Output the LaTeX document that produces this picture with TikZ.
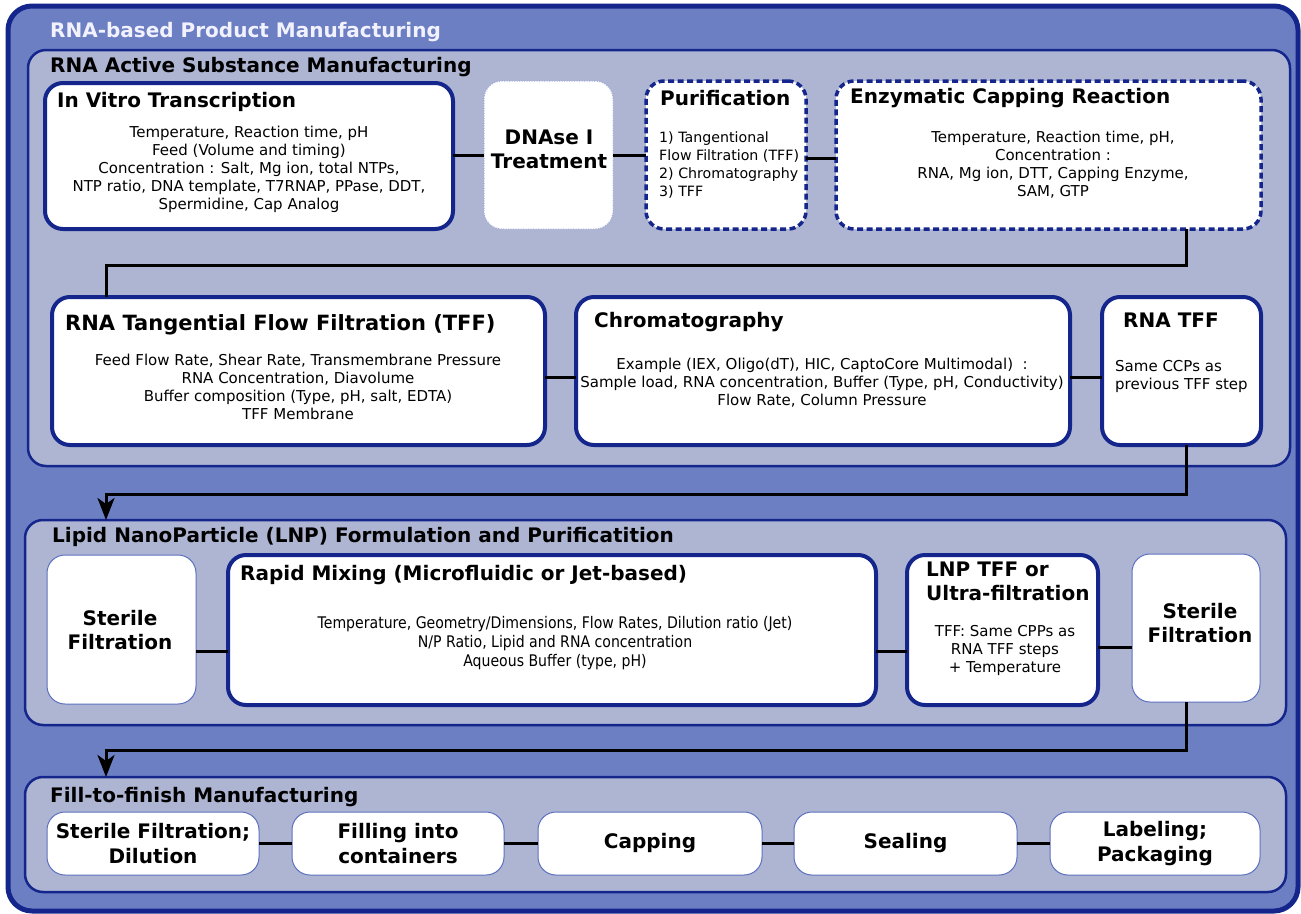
\documentclass[tikz,border=0pt]{standalone}
\usepackage{fontspec}
\setmainfont{DejaVu Sans}
\newfontfamily\condfont{DejaVu Sans}[FakeStretch=0.88]
\usetikzlibrary{arrows.meta}

\definecolor{outerfill}{RGB}{108,127,195}
\definecolor{secfill}{RGB}{174,181,211}
\definecolor{navy}{RGB}{20,38,140}
\definecolor{thinblue}{RGB}{92,112,192}

\newcommand\hdfont{\bfseries\fontsize{20}{24}\selectfont}
\newcommand\bodyfont{\fontsize{15}{18}\selectfont}
\newcommand\cbodyfont{\condfont\fontsize{16}{19}\selectfont}

\tikzset{
  panel/.style={draw=navy, line width=2.5pt, fill=secfill, rounded corners=18pt,
    anchor=north west, inner sep=0pt, outer sep=0pt},
  procbox/.style={draw=navy, line width=4pt, fill=white, rounded corners=18pt,
    anchor=north west, inner sep=0pt, outer sep=0pt},
  dashbox/.style={procbox, line width=3.5pt, dash pattern=on 6pt off 3.5pt},
  dotbox/.style={procbox, draw=thinblue!60, line width=1pt, dash pattern=on 1pt off 1.5pt},
  thinbox/.style={procbox, draw=thinblue, line width=1pt},
  hd/.style={font=\hdfont, anchor=base west, inner sep=0pt, align=left},
  bodytxt/.style={font=\bodyfont, align=center, inner sep=0pt},
  conn/.style={draw=black, line width=3pt},
  tip/.style={-{Stealth[length=22pt,width=17pt,inset=6pt]}},
}

\begin{document}
\begin{tikzpicture}[x=1pt,y=-1pt]
  \useasboundingbox (0,0) rectangle (1301,913);

  % Caixa externa e o seu titulo.
  \node[panel, fill=outerfill, line width=5pt, rounded corners=24pt,
    minimum width=1290pt, minimum height=905pt] (outer) at (8,6) {};
  \node[hd, text=white!95!blue] (outer-t) at (50,37) {RNA-based Product Manufacturing};

  % As tres secoes.
  \node[panel, minimum width=1262pt, minimum height=416pt] (ras) at (28,50) {};
  \node[hd] (ras-t) at (50,72) {RNA Active Substance Manufacturing};
  \node[panel, minimum width=1261pt, minimum height=205pt] (lnp) at (25,520) {};
  \node[hd] (lnp-t) at (52,542) {Lipid NanoParticle (LNP) Formulation and Purificatition};
  \node[panel, minimum width=1261pt, minimum height=115pt] (fill) at (25,777) {};
  \node[hd] (fill-t) at (50,802) {Fill-to-finish Manufacturing};

  % Primeira linha: transcricao ate o capping.
  \node[procbox, minimum width=408pt, minimum height=146pt] (ivt) at (45,83) {};
  \node[hd] (ivt-t) at (57,107) {In Vitro Transcription};
  \node[bodytxt] (ivt-b) at (249,169) {Temperature, Reaction time, pH\\
    Feed (Volume and timing)\\ Concentration : Salt, Mg ion, total NTPs,\\
    NTP ratio, DNA template, T7RNAP, PPase, DDT,\\ Spermidine, Cap Analog};

  \node[dotbox, minimum width=129pt, minimum height=148pt] (dnase) at (484,81) {};
  \node[font=\hdfont, align=center, inner sep=0pt] (dnase-t) at (549,149) {DNAse I\\Treatment};

  \node[dashbox, minimum width=160pt, minimum height=148pt] (purif) at (646,81) {};
  \node[hd] (purif-t) at (660,105) {Purification};
  \node[bodytxt, font=\fontsize{14.2}{18}\selectfont, align=left, anchor=west]
    (purif-b) at (659,165) {1) Tangentional\\
    Flow Filtration (TFF)\\ 2) Chromatography\\ 3) TFF};

  \node[dashbox, minimum width=425pt, minimum height=148pt] (enzym) at (836,81) {};
  \node[hd] (enzym-t) at (850,103) {Enzymatic Capping Reaction};
  \node[bodytxt] (enzym-b) at (1053,165) {Temperature, Reaction time, pH,\\
    Concentration :\\ RNA, Mg ion, DTT, Capping Enzyme,\\ SAM, GTP};

  % Segunda linha: TFF, cromatografia, TFF.
  \node[procbox, minimum width=493pt, minimum height=148pt] (rtff) at (52,297) {};
  \node[hd, font=\bfseries\fontsize{21}{25}\selectfont] (rtff-t) at (65,330)
    {RNA Tangential Flow Filtration (TFF)};
  \node[bodytxt] (rtff-b) at (298,387) {Feed Flow Rate, Shear Rate, Transmembrane Pressure\\
    RNA Concentration, Diavolume\\ Buffer composition (Type, pH, salt, EDTA)\\ TFF Membrane};

  \node[procbox, minimum width=494pt, minimum height=148pt] (chrom) at (576,297) {};
  \node[hd] (chrom-t) at (594,327) {Chromatography};
  \node[bodytxt] (chrom-b) at (822,383) {Example (IEX, Oligo(dT), HIC, CaptoCore Multimodal)\ \ :\\
    Sample load, RNA concentration, Buffer (Type, pH, Conductivity)\\ Flow Rate, Column Pressure};

  \node[procbox, minimum width=159pt, minimum height=148pt] (stff) at (1102,297) {};
  \node[hd] (stff-t) at (1123,327) {RNA TFF};
  \node[bodytxt, align=left, anchor=west] (stff-b) at (1115,376) {Same CCPs as\\previous TFF step};

  % Formulacao das LNP.
  \node[thinbox, minimum width=149pt, minimum height=149pt] (ster1) at (47,555) {};
  \node[font=\hdfont, align=center, inner sep=0pt] (ster1-t) at (120,630) {Sterile\\Filtration};

  \node[procbox, minimum width=648pt, minimum height=150pt] (mix) at (228,555) {};
  \node[hd] (mix-t) at (240,580) {Rapid Mixing (Microfluidic or Jet-based)};
  \node[bodytxt, font=\cbodyfont] (mix-b) at (555,643) {Temperature, Geometry/Dimensions, Flow Rates, Dilution ratio (Jet)\\
    N/P Ratio, Lipid and RNA concentration\\ Aqueous Buffer (type, pH)};

  \node[procbox, minimum width=191pt, minimum height=150pt] (ltff) at (907,555) {};
  \node[hd] (ltff-t) at (926,600) {LNP TFF or\\Ultra-filtration};
  \node[bodytxt] (ltff-b) at (1005,650) {TFF: Same CPPs as\\RNA TFF steps\\+ Temperature};

  \node[thinbox, minimum width=128pt, minimum height=148pt] (ster2) at (1132,554) {};
  \node[font=\hdfont, align=center, inner sep=0pt] (ster2-t) at (1200,623) {Sterile\\Filtration};

  % Fill-to-finish: cinco etapas em fila.
  \foreach \nm/\xa/\bw/\txt in {ff1/47/212/{Sterile Filtration;\\Dilution},
      ff2/292/212/{Filling into\\containers}, ff3/538/224/{Capping},
      ff4/794/223/{Sealing}, ff5/1050/210/{Labeling;\\Packaging}} {
    \node[thinbox, minimum width=\bw pt, minimum height=63pt] (\nm) at (\xa,812) {};
    \node[font=\bfseries\fontsize{20}{25}\selectfont, align=center,
      inner sep=0pt] (\nm-t) at (\nm.center) {\txt};
  }

  % Ligacoes horizontais.
  \draw[conn] (ivt.east |- dnase.center) -- (dnase.west);
  \draw[conn] (dnase.east) -- (purif.west |- dnase.east);
  \draw[conn] (purif.east |- 0,158) coordinate (p1) -- (p1 -| enzym.west);
  \coordinate (r1) at (0,377);
  \draw[conn] (rtff.east |- r1) -- (chrom.west |- r1);
  \draw[conn] (chrom.east |- r1) -- (stff.west |- r1);
  \coordinate (l1) at (0,651);
  \draw[conn] (ster1.east |- l1) -- (mix.west |- l1);
  \draw[conn] (mix.east |- l1) -- (ltff.west |- l1);
  \coordinate (l2) at (0,647);
  \draw[conn] (ltff.east |- l2) -- (ster2.west |- l2);
  \foreach \a/\b in {ff1/ff2,ff2/ff3,ff3/ff4,ff4/ff5}
    \draw[conn] (\a.east) -- (\b.west);

  % Cotovelos entre linhas e secoes.
  \coordinate (b1) at (1186,265);
  \coordinate (b2) at (106,265);
  \draw[conn] (enzym.south -| b1) -- (b1) -- (b2) -- (rtff.north -| b2);
  \coordinate (b3) at (1186,494);
  \coordinate (b4) at (106,494);
  \draw[conn, tip] (stff.south -| b3) -- (b3) -- (b4) -- (lnp.north -| b4);
  \coordinate (b5) at (1186,750);
  \coordinate (b6) at (106,750);
  \draw[conn, tip] (ster2.south -| b5) -- (b5) -- (b6) -- (fill.north -| b6);
\end{tikzpicture}
\end{document}
